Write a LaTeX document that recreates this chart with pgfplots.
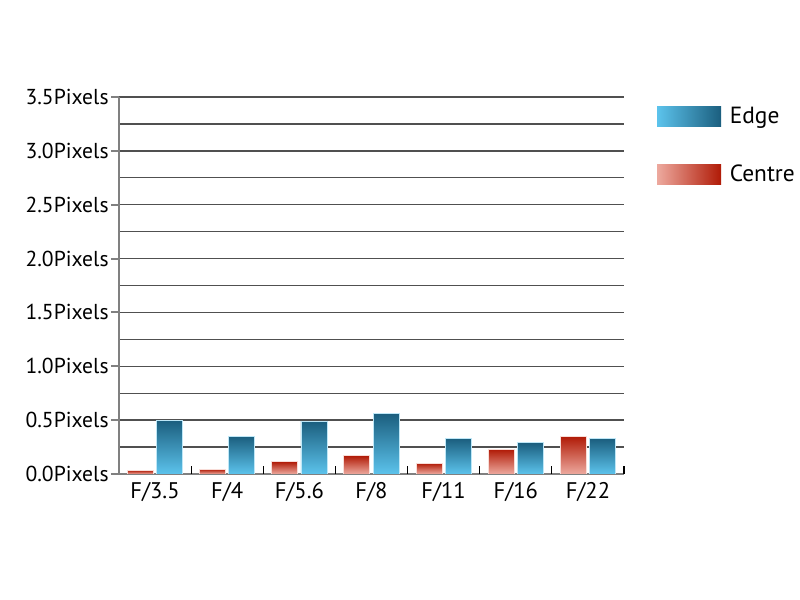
\documentclass[border=0pt]{standalone}
\usepackage{pgfplots}
\pgfplotsset{compat=1.18}
\usepackage{fontspec}
\setmainfont{PT Sans}
\definecolor{edgetop}{HTML}{1B5E7E}
\definecolor{edgebot}{HTML}{5CC3EC}
\definecolor{centtop}{HTML}{B01A06}
\definecolor{centbot}{HTML}{EDA99E}
\definecolor{gridc}{HTML}{505050}
\definecolor{axisc}{HTML}{808080}
\pgfplotsset{
  centrebar/.style={fill=centbot, top color=centtop, bottom color=centbot, draw=white!60!centbot, line width=0.4pt, bar shift=-7.3pt, forget plot},
  edgebar/.style={fill=edgebot, top color=edgetop, bottom color=edgebot, draw=white!60!edgebot, line width=0.4pt, bar shift=7.3pt, forget plot},
}
\begin{document}
\begin{tikzpicture}
\useasboundingbox (0,0) rectangle (400pt,300pt);
\begin{axis}[
  at={(59.5pt,63pt)}, anchor=south west,
  scale only axis, width=252.5pt, height=188.5pt,
  xmin=-0.5, xmax=6.5, ymin=0, ymax=3.5,
  ybar, bar width=13pt,
  axis x line=bottom, axis y line=left,
  axis line style={-, axisc, line width=1pt},
  ytick={0,0.5,...,3.5},
  yticklabels={0.0Pixels,0.5Pixels,1.0Pixels,1.5Pixels,2.0Pixels,2.5Pixels,3.0Pixels,3.5Pixels},
  minor ytick={0.25,0.75,...,3.25},
  ymajorgrids, yminorgrids,
  major grid style={gridc, line width=0.7pt},
  minor grid style={gridc, line width=0.7pt},
  major tick length=4pt, minor tick length=0pt,
  ytick style={axisc, line width=1pt},
  tick align=outside,
  xtick={0,...,6},
  xticklabels={F/3.5,F/4,F/5.6,F/8,F/11,F/16,F/22},
  xtick style={draw=none},
  extra x ticks={0.5,1.5,...,6.5},
  extra x tick labels={},
  extra x tick style={grid=none, tick align=inside, xtick style={draw=black, line width=0.6pt}, major tick length=4pt},
  yticklabel style={inner xsep=1pt, font=\fontsize{10.8pt}{12pt}\selectfont},
  xticklabel style={inner ysep=0pt, font=\fontsize{11.3pt}{13pt}\selectfont},
  legend style={at={(1.065,0.985)}, anchor=north west, draw=none, fill=none, inner sep=0pt,
    row sep=15pt, font=\fontsize{11.7pt}{13pt}\selectfont,
    nodes={inner xsep=4.3pt}},
  legend cell align=left,
]
% Centre
\addplot[centrebar] coordinates {(0,0.034)};
\addplot[centrebar] coordinates {(1,0.044)};
\addplot[centrebar] coordinates {(2,0.114)};
\addplot[centrebar] coordinates {(3,0.17)};
\addplot[centrebar] coordinates {(4,0.10)};
\addplot[centrebar] coordinates {(5,0.23)};
\addplot[centrebar] coordinates {(6,0.35)};
% Edge
\addplot[edgebar] coordinates {(0,0.50)};
\addplot[edgebar] coordinates {(1,0.35)};
\addplot[edgebar] coordinates {(2,0.49)};
\addplot[edgebar] coordinates {(3,0.563)};
\addplot[edgebar] coordinates {(4,0.33)};
\addplot[edgebar] coordinates {(5,0.29)};
\addplot[edgebar] coordinates {(6,0.33)};
\addlegendimage{legend image code/.code={\path[draw=none, left color=edgebot, right color=edgetop] (0pt,-5.1pt) rectangle (32pt,5.1pt);}}
\addlegendentry{Edge}
\addlegendimage{legend image code/.code={\path[draw=none, left color=centbot, right color=centtop] (0pt,-5.1pt) rectangle (32pt,5.1pt);}}
\addlegendentry{Centre}
\end{axis}
\end{tikzpicture}
\end{document}
